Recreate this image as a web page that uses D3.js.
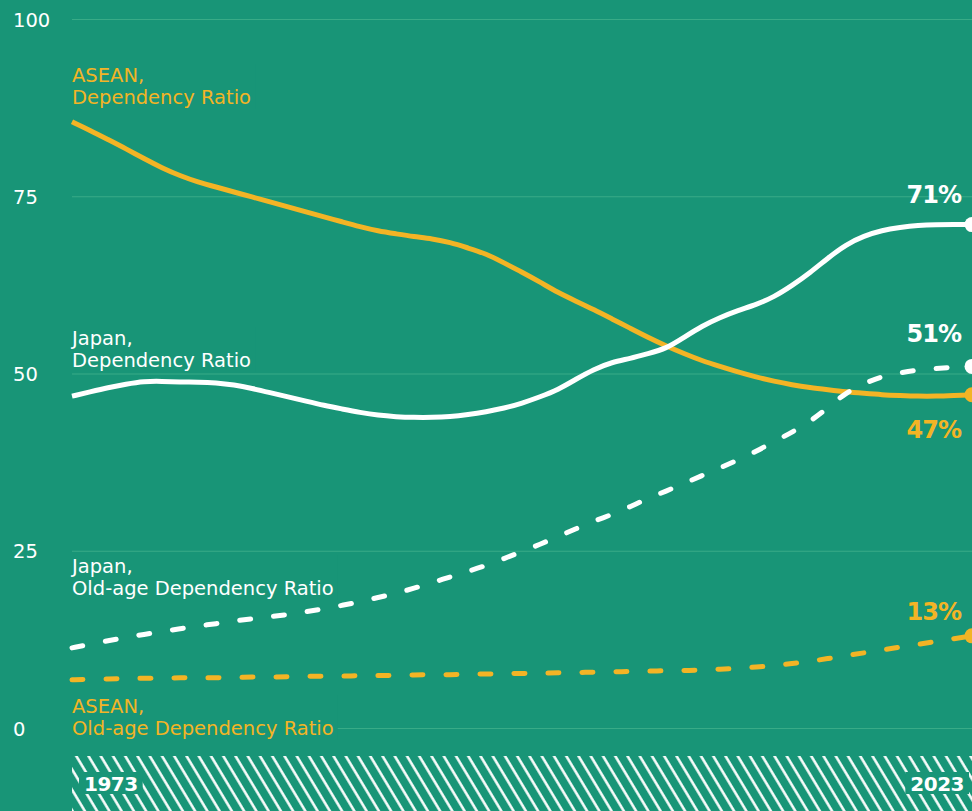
<!DOCTYPE html>
<html>
<head>
<meta charset="utf-8">
<script src="https://cdn.jsdelivr.net/npm/d3@7"></script>
<style>
  html, body { margin: 0; padding: 0; background: #189577; }
  svg { display: block; }
  text { font-family: "DejaVu Sans", sans-serif; }
</style>
</head>
<body>
<svg id="chart" width="972" height="811"></svg>
<script>
// Years on the x axis
const years = [
  1973, 1974, 1975, 1976, 1977, 1978, 1979, 1980, 1981, 1982,
  1983, 1984, 1985, 1986, 1987, 1988, 1989, 1990, 1991, 1992,
  1993, 1994, 1995, 1996, 1997, 1998, 1999, 2000, 2001, 2002,
  2003, 2004, 2005, 2006, 2007, 2008, 2009, 2010, 2011, 2012,
  2013, 2014, 2015, 2016, 2017, 2018, 2019, 2020, 2021, 2022, 2023
];

// ASEAN total dependency ratio (%)
const aseanDependency = [
  85.5, 84.3, 83.0, 81.7, 80.3, 79.0, 77.9, 77.0, 76.3, 75.6,
  74.9, 74.2, 73.5, 72.8, 72.1, 71.4, 70.7, 70.1, 69.7, 69.3,
  69.0, 68.5, 67.7, 66.9, 65.6, 64.3, 62.9, 61.4, 60.2, 59.0,
  57.7, 56.4, 55.1, 53.9, 52.8, 51.8, 51.0, 50.2, 49.5, 48.9,
  48.4, 48.0, 47.7, 47.4, 47.2, 47.0, 46.9, 46.8, 46.8, 46.9, 47.0
];

// Japan total dependency ratio (%)
const japanDependency = [
  46.8, 47.4, 48.0, 48.5, 48.9, 48.9, 48.8, 48.8, 48.7, 48.4,
  47.9, 47.3, 46.7, 46.1, 45.5, 45.0, 44.5, 44.1, 43.9, 43.8,
  43.8, 43.9, 44.2, 44.6, 45.1, 45.8, 46.7, 47.7, 49.2, 50.6,
  51.6, 52.1, 52.8, 53.5, 55.1, 56.7, 57.9, 58.9, 59.7, 60.8,
  62.4, 64.2, 66.3, 68.2, 69.4, 70.2, 70.6, 70.9, 71.0, 71.0, 71.0
];

// Japan old-age dependency ratio (%)
const japanOldAge = [
  11.3, 11.8, 12.3, 12.8, 13.2, 13.6, 14.0, 14.4, 14.7, 15.1,
  15.4, 15.7, 16.0, 16.4, 16.8, 17.3, 17.8, 18.4, 19.0, 19.7,
  20.5, 21.3, 22.1, 22.9, 23.9, 24.9, 25.9, 27.0, 28.1, 29.2,
  30.1, 31.2, 32.4, 33.4, 34.5, 35.6, 36.7, 37.8, 39.0, 40.4,
  41.7, 43.2, 45.2, 47.3, 48.6, 49.6, 50.1, 50.5, 50.7, 50.9, 51.0
];

// ASEAN old-age dependency ratio (%)
const aseanOldAge = [
  6.8, 6.9, 6.9, 7.0, 7.0, 7.0, 7.1, 7.1, 7.1, 7.1,
  7.2, 7.2, 7.2, 7.3, 7.3, 7.3, 7.4, 7.4, 7.4, 7.5,
  7.5, 7.5, 7.6, 7.6, 7.7, 7.7, 7.7, 7.8, 7.8, 7.9,
  7.9, 8.0, 8.0, 8.1, 8.1, 8.2, 8.3, 8.4, 8.6, 8.8,
  9.1, 9.4, 9.8, 10.2, 10.6, 11.0, 11.4, 11.8, 12.2, 12.6, 13.0
];

const yTicks = [0, 25, 50, 75, 100];
const yearLabels = [1973, 2023];

const BG = "#189577";
const GRID = "#38ab87";
const YELLOW = "#F3B425";
const WHITE = "#ffffff";

const series = [
  { values: aseanOldAge, color: YELLOW, dashed: true,
    label: ["ASEAN,", "Old-age Dependency Ratio"], labelY: 713, end: { dy: -16 } },
  { values: aseanDependency, color: YELLOW, dashed: false,
    label: ["ASEAN,", "Dependency Ratio"], labelY: 82, end: { dy: 43 } },
  { values: japanOldAge, color: WHITE, dashed: true,
    label: ["Japan,", "Old-age Dependency Ratio"], labelY: 573, end: { dy: -24 } },
  { values: japanDependency, color: WHITE, dashed: false,
    label: ["Japan,", "Dependency Ratio"], labelY: 345, end: { dy: -22 } }
];

const width = 972, height = 811;
const svg = d3.select("#chart");

svg.append("rect").attr("width", width).attr("height", height).attr("fill", BG);

const x = d3.scaleLinear().domain([years[0], years[years.length - 1]]).range([72, 972]);
const y = d3.scaleLinear().domain([0, 100]).range([728, 19]);

// Hatched band along the bottom
const defs = svg.append("defs");
const pat = defs.append("pattern")
  .attr("id", "hatch")
  .attr("patternUnits", "userSpaceOnUse")
  .attr("width", 10.5).attr("height", 10.5)
  .attr("patternTransform", "rotate(-31)");
pat.append("rect").attr("width", 10.5).attr("height", 10.5).attr("fill", BG);
pat.append("line")
  .attr("x1", 1.5).attr("x2", 1.5).attr("y1", 0).attr("y2", 10.5)
  .attr("stroke", WHITE).attr("stroke-width", 2.5);

// Gridlines and y tick labels
const yAxis = d3.axisLeft(y).tickValues(yTicks).tickSize(-(x.range()[1] - x.range()[0])).tickFormat(d3.format("d"));
svg.append("g")
  .attr("transform", `translate(${x.range()[0]},0)`)
  .call(yAxis)
  .call(g => g.select(".domain").remove())
  .call(g => g.selectAll(".tick line").attr("stroke", GRID).attr("stroke-width", 1.2))
  .call(g => g.selectAll(".tick text")
    .attr("x", -59).attr("dy", "0.36em")
    .attr("text-anchor", "start")
    .attr("fill", WHITE)
    .attr("font-size", 19.5)
    .attr("font-family", "DejaVu Sans, sans-serif"));

// Bottom band with the first and last year
const band = svg.append("g");
band.append("rect")
  .attr("x", x.range()[0]).attr("y", 756)
  .attr("width", x.range()[1] - x.range()[0]).attr("height", height - 756)
  .attr("fill", "url(#hatch)");

yearLabels.forEach((yr, i) => {
  const isFirst = i === 0;
  const t = band.append("text")
    .attr("x", isFirst ? x(yr) + 12 : x(yr) - 8)
    .attr("y", 791)
    .attr("text-anchor", isFirst ? "start" : "end")
    .attr("fill", WHITE)
    .attr("font-size", 20)
    .attr("font-weight", "bold")
    .attr("letter-spacing", -0.5)
    .text(yr);
  const bb = t.node().getBBox();
  band.insert("rect", () => t.node())
    .attr("x", bb.x - 5).attr("y", 772)
    .attr("width", bb.width + 10).attr("height", 22)
    .attr("fill", BG);
});

// Series labels (left), each with a backing box so gridlines pass behind the text
const labels = svg.append("g");
series.forEach(s => {
  const t = labels.append("text")
    .attr("x", x.range()[0])
    .attr("y", s.labelY)
    .attr("fill", s.color)
    .attr("font-size", 19.5);
  s.label.forEach((line, i) => {
    t.append("tspan").attr("x", x.range()[0]).attr("dy", i === 0 ? 0 : 22).text(line);
  });
  const bb = t.node().getBBox();
  labels.insert("rect", () => t.node())
    .attr("x", bb.x - 2).attr("y", bb.y)
    .attr("width", bb.width + 6).attr("height", bb.height)
    .attr("fill", BG);
});

// Lines
const line = d3.line()
  .x((d, i) => x(years[i]))
  .y(d => y(d))
  .curve(d3.curveBasis);

const lines = svg.append("g");
series.forEach(s => {
  lines.append("path")
    .datum(s.values)
    .attr("d", line)
    .attr("fill", "none")
    .attr("stroke", s.color)
    .attr("stroke-width", 5)
    .attr("stroke-linecap", s.dashed ? "round" : "butt")
    .attr("stroke-linejoin", "round")
    .attr("stroke-dasharray", s.dashed ? "11 23" : null);
});

// End markers and value labels
const ends = svg.append("g");
series.forEach(s => {
  const last = s.values[s.values.length - 1];
  const lx = x(years[years.length - 1]);
  ends.append("circle")
    .attr("cx", lx).attr("cy", y(last))
    .attr("r", 7.5).attr("fill", s.color);
  ends.append("text")
    .attr("x", lx - 11)
    .attr("y", y(last) + s.end.dy)
    .attr("text-anchor", "end")
    .attr("fill", s.color)
    .attr("font-size", 24)
    .attr("font-weight", "bold")
    .attr("letter-spacing", -1)
    .text(d3.format(".0f")(last) + "%");
});
</script>
</body>
</html>
